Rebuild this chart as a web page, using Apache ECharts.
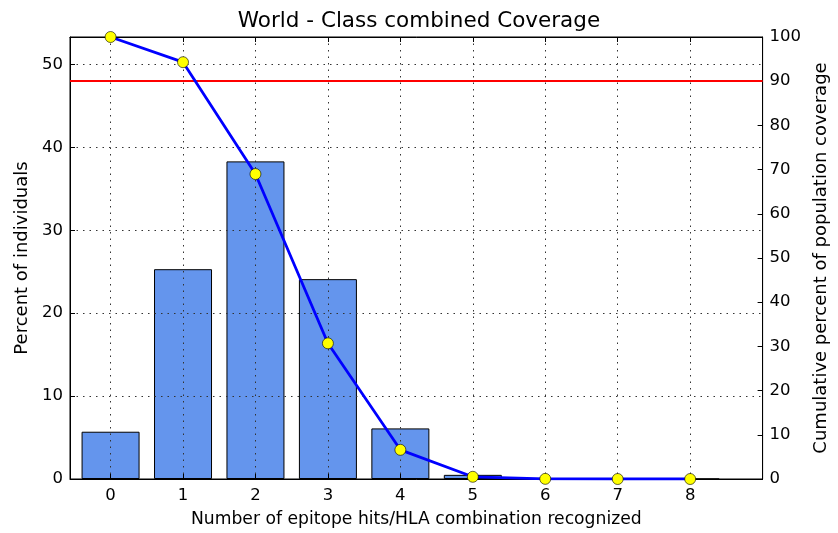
<!DOCTYPE html>
<html>
<head>
<meta charset="utf-8">
<script src="https://cdn.jsdelivr.net/npm/echarts@6/dist/echarts.min.js"></script>
<style>
  html, body { margin: 0; padding: 0; background: #ffffff; }
  #chart { width: 838px; height: 533px; }
</style>
</head>
<body>
<div id="chart"></div>
<script>
// Number of epitope hits per HLA combination
const hits = [0, 1, 2, 3, 4, 5, 6, 7, 8];
// Percent of individuals recognising exactly that many hits
const percentIndividuals = [5.7, 25.3, 38.3, 24.1, 6.1, 0.5, 0.03, 0, 0];
// Cumulative percent of population coverage (at least that many hits)
const cumulativeCoverage = [100, 94.3, 69.0, 30.7, 6.6, 0.5, 0.03, 0, 0];
// Tick labels
const leftTicks = [0, 10, 20, 30, 40, 50];
const rightTicks = [0, 10, 20, 30, 40, 50, 60, 70, 80, 90, 100];
// Coverage reference level
const coverageTarget = 90;

const FONT = 'DejaVu Sans';
const gridDots = { color: '#333333', width: 1, type: [1.5, 5] };
const tickText = { fontFamily: FONT, fontSize: 16.5, color: '#000' };
const xNameText = { fontFamily: FONT, fontSize: 17.2, color: '#000' };
const yNameText = { fontFamily: FONT, fontSize: 18, color: '#000' };
const frameLine = { show: true, onZero: false, lineStyle: { color: '#000', width: 1 } };

const chart = echarts.init(document.getElementById('chart'), null, { renderer: 'canvas' });

chart.setOption({
  animation: false,
  backgroundColor: '#ffffff',
  title: {
    text: 'World - Class combined Coverage',
    left: 'center',
    top: 5,
    textStyle: { fontFamily: FONT, fontSize: 21.5, fontWeight: 'normal', color: '#000' }
  },
  grid: {
    left: 70, right: 70, top: 37, bottom: 52,
    show: true, borderColor: '#000', borderWidth: 1, backgroundColor: 'transparent'
  },
  xAxis: [
    {
      type: 'value',
      min: -0.56, max: 9.0,
      z: 3,
      name: 'Number of epitope hits/HLA combination recognized',
      nameLocation: 'middle',
      nameGap: 32,
      nameTextStyle: xNameText,
      axisLine: frameLine,
      axisTick: { show: true, inside: true, length: 5, customValues: hits, lineStyle: { color: '#000' } },
      axisLabel: Object.assign({ customValues: hits, margin: 8 }, tickText),
      splitLine: { show: true, lineStyle: gridDots }
    },
    {
      type: 'value',
      position: 'top',
      min: -0.56, max: 9.0,
      z: 3,
      axisLine: frameLine,
      axisTick: { show: true, inside: true, length: 5, customValues: hits, lineStyle: { color: '#000' } },
      axisLabel: { show: false },
      splitLine: { show: false }
    }
  ],
  yAxis: [
    {
      type: 'value',
      position: 'left',
      min: 0, max: 53.3, interval: 10,
      z: 3,
      name: 'Percent of individuals',
      nameLocation: 'middle',
      nameRotate: 90,
      nameGap: 39,
      nameTextStyle: yNameText,
      axisLine: frameLine,
      axisTick: { show: true, inside: true, length: 5, customValues: leftTicks, lineStyle: { color: '#000' } },
      axisLabel: Object.assign({ customValues: leftTicks, margin: 7 }, tickText),
      splitLine: { show: true, lineStyle: gridDots }
    },
    {
      type: 'value',
      position: 'right',
      min: 0, max: 100, interval: 10,
      z: 3,
      name: 'Cumulative percent of population coverage',
      nameLocation: 'middle',
      nameRotate: 90,
      nameGap: 45,
      nameTextStyle: yNameText,
      axisLine: frameLine,
      axisTick: { show: true, inside: true, length: 5, customValues: rightTicks, lineStyle: { color: '#000' } },
      axisLabel: Object.assign({ customValues: rightTicks, margin: 7 }, tickText),
      splitLine: { show: false }
    }
  ],
  series: [
    {
      type: 'bar',
      xAxisIndex: 0,
      yAxisIndex: 0,
      barWidth: 58,
      z: 2,
      itemStyle: { color: '#6495ed', borderColor: '#000', borderWidth: 1 },
      data: hits.map((h, i) => [h, percentIndividuals[i]])
    },
    {
      type: 'line',
      xAxisIndex: 0,
      yAxisIndex: 1,
      z: 5,
      symbol: 'circle',
      symbolSize: 11,
      lineStyle: { color: '#0000ff', width: 2.8 },
      itemStyle: { color: '#ffff00', borderColor: '#000', borderWidth: 0.6 },
      data: hits.map((h, i) => [h, cumulativeCoverage[i]]),
      markLine: {
        silent: true,
        symbol: 'none',
        label: { show: false },
        lineStyle: { color: '#ff0000', width: 1.8, type: 'solid' },
        data: [{ yAxis: coverageTarget }]
      }
    }
  ]
});
</script>
</body>
</html>
